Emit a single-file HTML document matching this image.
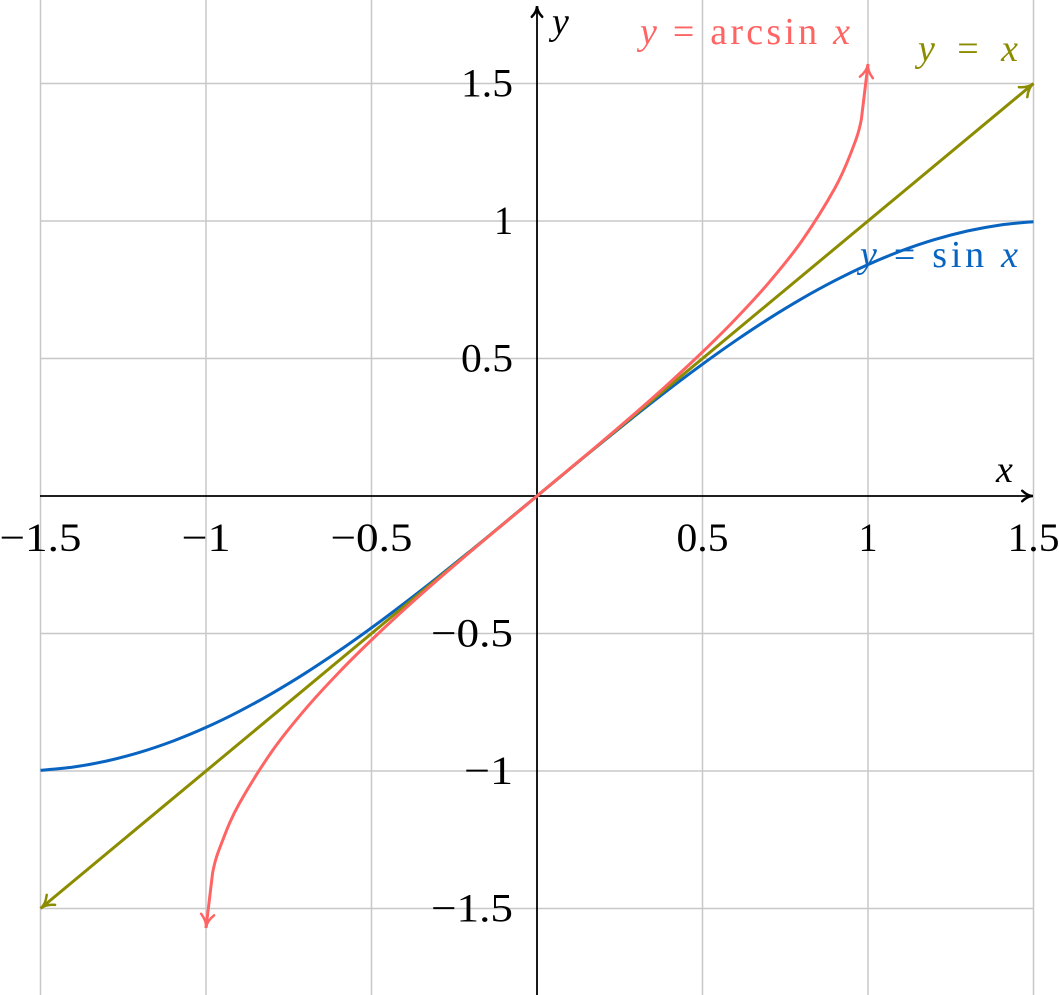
<!DOCTYPE html>
<html><head><meta charset="utf-8"><style>
html,body{margin:0;padding:0;background:#fff;}
svg{display:block;}
text{font-family:"Liberation Serif",serif;}
</style></head><body>
<svg id="chart" width="1059" height="995" viewBox="0 0 1059 995" xmlns="http://www.w3.org/2000/svg">
<g id="grid"></g>
<g id="axes"></g>
<g id="series"></g>
<g id="labels"></g>
</svg>
<script>
const xTicks = [-1.5, -1, -0.5, 0.5, 1, 1.5];
const yTicks = [-1.5, -1, -0.5, 0.5, 1, 1.5];
const xTickLabels = ["\u22121.5", "\u22121", "\u22120.5", "0.5", "1", "1.5"];
const yTickLabels = ["\u22121.5", "\u22121", "\u22120.5", "0.5", "1", "1.5"];
const sinX = [-1.5,-1.4,-1.3,-1.2,-1.1,-1,-0.9,-0.8,-0.7,-0.6,-0.5,-0.4,-0.3,-0.2,-0.1,0,0.1,0.2,0.3,0.4,0.5,0.6,0.7,0.8,0.9,1,1.1,1.2,1.3,1.4,1.5];
const sinY = [-0.9975,-0.9854,-0.9636,-0.9320,-0.8912,-0.8415,-0.7833,-0.7174,-0.6442,-0.5646,-0.4794,-0.3894,-0.2955,-0.1987,-0.0998,0,0.0998,0.1987,0.2955,0.3894,0.4794,0.5646,0.6442,0.7174,0.7833,0.8415,0.8912,0.9320,0.9636,0.9854,0.9975];
const asinX = [-1,-0.98,-0.95,-0.9,-0.8,-0.7,-0.6,-0.5,-0.4,-0.3,-0.2,-0.1,0,0.1,0.2,0.3,0.4,0.5,0.6,0.7,0.8,0.9,0.95,0.98,1];
const asinY = [-1.5708,-1.3705,-1.2532,-1.1198,-0.9273,-0.7754,-0.6435,-0.5236,-0.4115,-0.3047,-0.2014,-0.1002,0,0.1002,0.2014,0.3047,0.4115,0.5236,0.6435,0.7754,0.9273,1.1198,1.2532,1.3705,1.5708];
const idX = [-1.5, 1.5];
const idY = [-1.5, 1.5];

const NS = "http://www.w3.org/2000/svg";
const X0 = 537, XS = 331, Y0 = 496, YS = 275;
function sx(v){ return X0 + v*XS; }
function sy(v){ return Y0 - v*YS; }
function mk(tag, attrs, parent){
  const e = document.createElementNS(NS, tag);
  for (const k in attrs) e.setAttribute(k, attrs[k]);
  parent.appendChild(e); return e;
}
const grid = document.getElementById('grid');
const axes = document.getElementById('axes');
const series = document.getElementById('series');
const labels = document.getElementById('labels');

function labelWidth(s){ return (s.startsWith('\u2212') ? 30 : 0) + (s.replace('\u2212','').length===1 ? 19 : 52); }

xTicks.forEach((t,i)=>{
  const l = mk('line',{x1:sx(t),x2:sx(t),y1:0,y2:995,stroke:'#c8c8c8','stroke-width':1.5},grid);
  
  
  const s = xTickLabels[i];
  const tx = mk('text',{x:sx(t),y:551,'font-size':40,'text-anchor':'middle',fill:'#000',textLength:labelWidth(s),lengthAdjust:'spacingAndGlyphs'},labels);
  tx.textContent = s;
  
  
});
yTicks.forEach((t,i)=>{
  const l = mk('line',{x1:40,x2:1033,y1:sy(t),y2:sy(t),stroke:'#c8c8c8','stroke-width':1.5},grid);
  
  
  const s = yTickLabels[i];
  const tx = mk('text',{x:513,y:sy(t)+13,'font-size':40,'text-anchor':'end',fill:'#000',textLength:labelWidth(s),lengthAdjust:'spacingAndGlyphs'},labels);
  tx.textContent = s;
  
  
});

function arrowHead(parent, x, y, ang, color, size){
  const a1 = ang + Math.PI - 0.45, a2 = ang + Math.PI + 0.45;
  const b = ang + Math.PI;
  const d = `M${x+size*Math.cos(a1)},${y+size*Math.sin(a1)} Q${x+size*0.45*Math.cos(b)},${y+size*0.45*Math.sin(b)} ${x},${y} Q${x+size*0.45*Math.cos(b)},${y+size*0.45*Math.sin(b)} ${x+size*Math.cos(a2)},${y+size*Math.sin(a2)}`;
  const p = mk('path',{d:d,fill:'none',stroke:color,'stroke-width':2.5,'stroke-linecap':'round'},parent);
  
  
}

const xa = mk('line',{x1:40,x2:1031,y1:Y0,y2:Y0,stroke:'#000','stroke-width':1.8},axes);


arrowHead(axes,1033,Y0,0,'#000',12);
const ya = mk('line',{x1:X0,x2:X0,y1:995,y2:8,stroke:'#000','stroke-width':1.8},axes);


arrowHead(axes,X0,6,-Math.PI/2,'#000',12);

function smoothPath(pts, straightEnds){
  let d = 'M'+pts[0][0].toFixed(1)+','+pts[0][1].toFixed(1);
  const n = pts.length;
  for (let i=0;i<n-1;i++){
    if (straightEnds && (i===0 || i===n-2)){ d += ' L'+pts[i+1][0].toFixed(1)+','+pts[i+1][1].toFixed(1); continue; }
    const p0 = pts[Math.max(i-1,0)], p1 = pts[i], p2 = pts[i+1], p3 = pts[Math.min(i+2,n-1)];
    const c1 = [p1[0]+(p2[0]-p0[0])/6, p1[1]+(p2[1]-p0[1])/6];
    const c2 = [p2[0]-(p3[0]-p1[0])/6, p2[1]-(p3[1]-p1[1])/6];
    d += ` C${c1[0].toFixed(1)},${c1[1].toFixed(1)} ${c2[0].toFixed(1)},${c2[1].toFixed(1)} ${p2[0].toFixed(1)},${p2[1].toFixed(1)}`;
  }
  return d;
}

function drawSeries(xs, ys, color, name, startArrow, endArrow, straightEnds){
  const pts = xs.map((x,i)=>[sx(x),sy(ys[i])]);
  const p = mk('path',{d:smoothPath(pts, straightEnds),fill:'none',stroke:color,'stroke-width':3,'stroke-linejoin':'round'},series);
  
  
  const n = pts.length;
  if (endArrow){
    const a = Math.atan2(pts[n-1][1]-pts[n-2][1], pts[n-1][0]-pts[n-2][0]);
    arrowHead(series, pts[n-1][0], pts[n-1][1], a, color, 15);
  }
  if (startArrow){
    const a = Math.atan2(pts[0][1]-pts[1][1], pts[0][0]-pts[1][0]);
    arrowHead(series, pts[0][0], pts[0][1], a, color, 15);
  }
}
drawSeries(sinX, sinY, '#0864c0', 'sin-curve', false, false, false);
drawSeries(idX, idY, '#8c8c00', 'identity-line', true, true, false);
drawSeries(asinX, asinY, '#ff6464', 'arcsin-curve', true, true, true);

function label(x,y,html,color,name,len){
  const t = mk('text',{x:x,y:y,'font-size':38,fill:color,textLength:len,lengthAdjust:'spacing'},labels);
  t.innerHTML = html;
  
  
}
label(552,34,'<tspan font-style="italic">y</tspan>','#000','y-axis-title',20);
label(996,482,'<tspan font-style="italic">x</tspan>','#000','x-axis-title',20);
label(640,44,'<tspan font-style="italic">y</tspan> = arcsin <tspan font-style="italic">x</tspan>','#ff6464','arcsin-label',210);
label(918,61,'<tspan font-style="italic">y</tspan> = <tspan font-style="italic">x</tspan>','#8c8c00','identity-label',100);
label(860,267,'<tspan font-style="italic">y</tspan> = sin <tspan font-style="italic">x</tspan>','#0864c0','sin-label',158);
</script>
</body></html>
